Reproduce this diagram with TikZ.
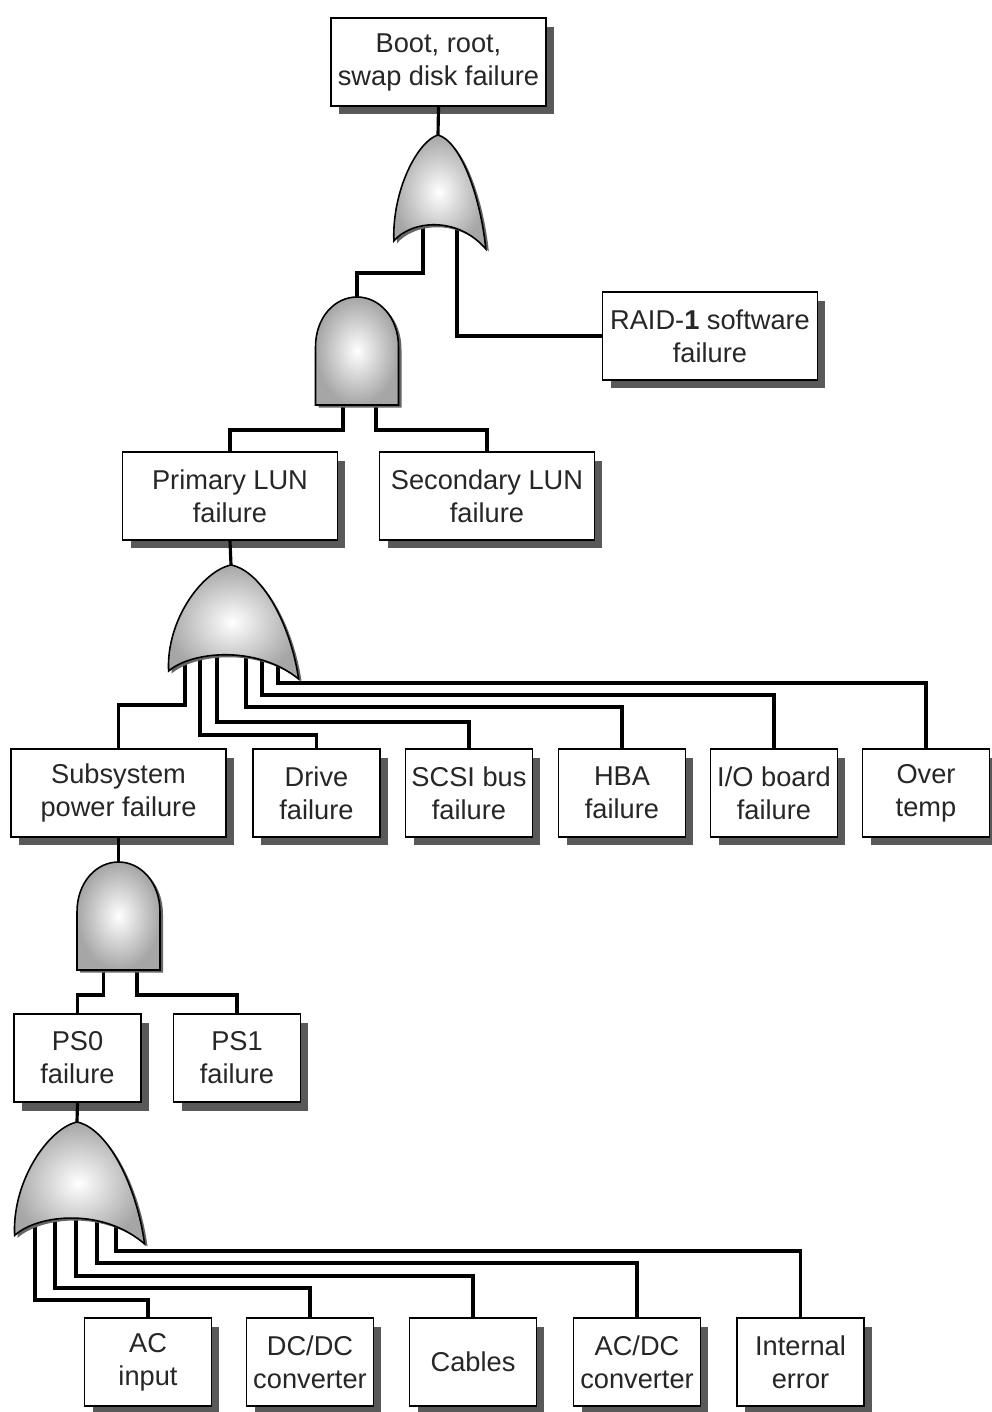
\documentclass[tikz,border=0pt]{standalone}
\usepackage{fontspec}
\setmainfont{Liberation Sans}
\usetikzlibrary{shadows}

\begin{document}
\begin{tikzpicture}[x=0.02cm,y=-0.02cm,
    event/.style={draw,line width=1.1pt,fill=white,align=center,
      minimum width=2.54cm,minimum height=1.76cm,inner sep=1pt,
      font=\fontsize{15.5}{18.8}\selectfont,text=black!85,
      drop shadow={shadow xshift=0.16cm,shadow yshift=-0.17cm,fill=black!65,opacity=1}},
    wide/.style={event,minimum width=4.3cm},
    wire/.style={line width=1.8pt},
    gate/.style={draw,line width=0.9pt,shading=radial,inner color=white,outer color=gray!70,
      drop shadow={shadow xshift=0.06cm,shadow yshift=-0.05cm,fill=black!60,opacity=1}},
    orgate/.pic={
      \path[gate] (0,0) .. controls (-22,6) and (-50,55) .. (-48,106)
        .. controls (-30,86) and (20,80) .. (52,114)
        .. controls (46,60) and (24,6) .. (0,0) -- cycle;},
    andgate/.pic={
      \path[gate] (-41.5,108) -- (-41.5,50) .. controls (-41.5,20) and (-22,0) .. (0,0)
        .. controls (22,0) and (41.5,20) .. (41.5,50) -- (41.5,108) -- cycle;}
  ]
    \useasboundingbox (0,0) rectangle (991,1412);

    % events
    \node[wide] (boot) at (438.5,62) {Boot, root,\\swap disk failure};
    \node[wide] (raid) at (710,336) {RAID-\textbf{1} software\\failure};
    \node[wide] (primary) at (230,496) {Primary LUN\\failure};
    \node[wide] (secondary) at (487,496) {Secondary LUN\\failure};
    \node[wide] (subsys) at (118.5,793) {Subsystem\\power failure};
    \node[event] (drive) at (316.5,793) {Drive\\failure};
    \node[event] (scsi) at (469,793) {SCSI bus\\failure};
    \node[event] (hba) at (622,793) {HBA\\failure};
    \node[event] (ioboard) at (774,793) {I/O board\\failure};
    \node[event] (overtemp) at (926,793) {Over\\temp};
    \node[event] (ps0) at (77.5,1058) {PS0\\failure};
    \node[event] (ps1) at (237,1058) {PS1\\failure};
    \node[event] (acin) at (148,1362) {AC\\input};
    \node[event] (dcdc) at (310,1362) {DC/DC\\converter};
    \node[event] (cables) at (473,1362) {Cables};
    \node[event] (acdc) at (637,1362) {AC/DC\\converter};
    \node[event] (interr) at (800.5,1362) {Internal\\error};

    % gate tops
    \coordinate (or1) at (438,135);
    \coordinate (and1) at (357,297);
    \coordinate (or2) at (231,565);
    \coordinate (and2) at (118.5,862);
    \coordinate (or3) at (77,1122);

    % wires (gates are drawn over their ends)
    \draw[wire] (boot.south) -- (or1);
    \draw[wire] (or1) ++(-15,80) -- ++(0,58) -| (and1);
    \draw[wire] (or1) ++(19,80) |- (raid.west);

    \draw[wire] (and1) ++(-14,100) -- ++(0,33) -| (primary.north);
    \draw[wire] (and1) ++(19,100) -- ++(0,33) -| (secondary.north);

    \draw[wire] (primary.south) -- (or2);
    \foreach \dx/\dy/\n in {-46/65/subsys,-31/95/drive,-14/82/scsi,15/67/hba,31/55/ioboard,47/43/overtemp}
      \draw[wire] (or2) ++(\dx,75) -- ++(0,\dy) -| (\n.north);

    \draw[wire] (subsys.south) -- (and2);
    \draw[wire] (and2) ++(-15,100) -- ++(0,33) -| (ps0.north);
    \draw[wire] (and2) ++(18.5,100) -- ++(0,33) -| (ps1.north);

    \draw[wire] (ps0.south) -- (or3);
    \foreach \dx/\dy/\n in {-42/98/acin,-22/86/dcdc,-1/74/cables,20/61/acdc,39/49/interr}
      \draw[wire] (or3) ++(\dx,80) -- ++(0,\dy) -| (\n.north);

    % gates
    \pic[xscale=0.92] at (or1) {orgate};
    \pic at (and1) {andgate};
    \pic[xscale=1.3] at (or2) {orgate};
    \pic at (and2) {andgate};
    \pic[xscale=1.3,yscale=1.07] at (or3) {orgate};
\end{tikzpicture}
\end{document}
